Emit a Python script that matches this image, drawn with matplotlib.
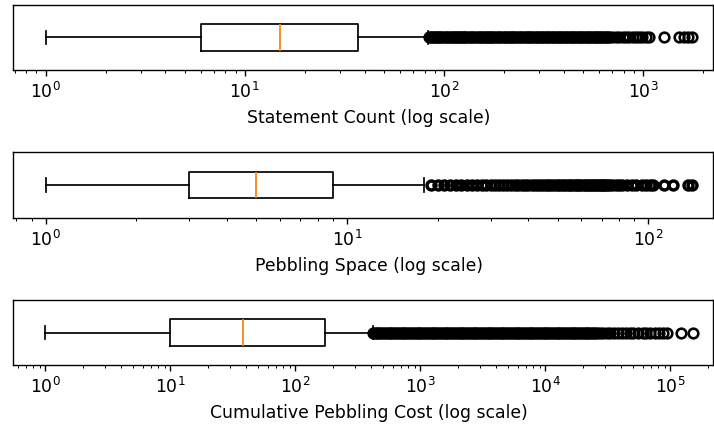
import matplotlib
matplotlib.use("Agg")
import matplotlib.pyplot as plt

# box statistics
labels = ["Statement Count (log scale)",
          "Pebbling Space (log scale)",
          "Cumulative Pebbling Cost (log scale)"]
whislo = [1, 1, 1]
q1 = [6, 3, 10]
med = [15, 5, 38]
q3 = [37, 9, 172]
whishi = [83, 18, 415]

# outliers (the solid black runs are approximated by closely spaced points)
fliers_statements = [
    84, 85, 87, 88, 90, 91, 93, 95, 96, 98, 100, 102, 104, 106, 108, 110, 112,
    114, 116, 118, 120, 122, 124, 126, 128, 130, 133, 136, 139, 142, 145, 148,
    151, 154, 157, 160, 163, 166, 169, 172, 175, 178, 182, 186, 190, 194, 198,
    202, 206, 210, 214, 218, 222, 226, 230, 235, 240, 245, 250, 255, 260, 265,
    270, 275, 280, 286, 292, 298, 304, 310, 316, 322, 328, 334, 340, 347, 354,
    361, 368, 375, 382, 389, 396, 404, 412, 420, 428, 436, 444, 452, 460, 469,
    478, 487, 496, 505, 514, 524, 534, 544, 554, 564, 574, 585, 596, 607, 618,
    630, 642, 654, 666, 678,
    700, 730, 760, 790, 820, 850, 885, 920, 955, 990, 1030, 1075,
    1274, 1520, 1600, 1680, 1770]
fliers_space = [
    19, 20, 21, 22, 23, 24, 25, 26, 27, 28, 29, 30, 31, 32, 33, 34, 35, 36,
    37, 38, 39, 40, 41, 42, 43, 44, 45, 46, 47, 48, 49, 50, 51, 52, 53, 54,
    55, 56, 57, 58, 59, 60, 61, 62, 63, 64, 65, 66, 67, 68, 69, 70, 71, 72,
    73, 74, 76, 78, 80, 82, 85, 88, 91, 95, 98, 101, 104, 113, 121, 135, 140]
fliers_cost = [
    416, 430, 445, 461, 477, 494, 511, 529, 547, 566, 586, 607, 628, 650, 673,
    696, 720, 745, 771, 798, 826, 855, 885, 916, 948, 981, 1015, 1050, 1087,
    1125, 1165, 1205, 1248, 1291, 1336, 1383, 1432, 1482, 1534, 1587, 1643,
    1700, 1760, 1822, 1885, 1951, 2019, 2090, 2163, 2239, 2317, 2398, 2482,
    2569, 2659, 2752, 2848, 2948, 3051, 3158, 3268, 3383, 3501, 3624, 3750,
    3882, 4018, 4158, 4304, 4454, 4610, 4771, 4938, 5111, 5290, 5475, 5667,
    5865, 6071, 6283, 6503, 6731, 6966, 7210, 7463, 7724, 7994, 8274, 8563,
    8863, 9173, 9494, 9827, 10170, 10530, 10900, 11280, 11670, 12080, 12500,
    12940, 13390, 13860, 14350, 14850, 15370, 15910, 16460, 17040, 17640,
    18250, 18890, 19550, 20240, 20950, 21680, 22440, 23220, 24040, 24880,
    26000, 27500, 29000, 31000, 33000, 35500, 38000, 41000, 44000, 47000,
    50000, 55000, 60000, 64000, 69000, 75000, 81000, 87500, 93500,
    121000, 150000]
fliers = [fliers_statements, fliers_space, fliers_cost]

xlims = [(0.684, 2244), (0.778, 164), (0.547, 218800)]

fig = plt.figure(figsize=(714 / 124, 425 / 124), dpi=124)
bottoms = [0.8353, 0.4878, 0.1405]
# thicker edges stand in for the many stacked duplicate outliers
flier_size = [5.6, 5.2, 5.6]
flier_edge = [1.5, 2.0, 1.5]

for i in range(3):
    ax = fig.add_axes([0.0178, bottoms[i], 0.9808, 0.1536])
    stats = [{"whislo": whislo[i], "q1": q1[i], "med": med[i], "q3": q3[i],
              "whishi": whishi[i], "fliers": fliers[i]}]
    ax.bxp(stats, orientation="horizontal", widths=0.41,
           flierprops=dict(marker="o", markersize=flier_size[i],
                           markeredgewidth=flier_edge[i],
                           markerfacecolor="none", markeredgecolor="black"))
    ax.set_xscale("log")
    ax.set_xlim(*xlims[i])
    ax.set_ylim(0.5, 1.5)
    ax.set_yticks([])
    ax.set_xlabel(labels[i], x=0.509)

fig.savefig("out.png", dpi=124)
